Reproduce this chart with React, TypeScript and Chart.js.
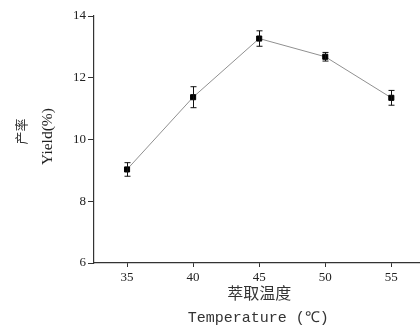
import React, { useEffect, useRef } from 'react';
import { Chart, registerables } from 'chart.js';

Chart.register(...registerables);

const temperatures = [35, 40, 45, 50, 55];
const yieldValues = [9.03, 11.37, 13.27, 12.68, 11.35];
const yieldErrors = [0.22, 0.34, 0.25, 0.14, 0.24];
const xTickValues = [35, 40, 45, 50, 55];
const yTickValues = [6, 8, 10, 12, 14];
const xTitleCn = '萃取温度';
const xTitleEn = 'Temperature (℃)';
const yTitleCn = '产率';
const yTitleEn = 'Yield(%)';

const errorBarsPlugin = {
  id: 'errorBars',
  afterDatasetsDraw(chart: any) {
    const ctx = chart.ctx;
    const xs = chart.scales.x;
    const ys = chart.scales.y;
    ctx.save();
    ctx.strokeStyle = '#111';
    ctx.lineWidth = 1;
    temperatures.forEach((t, i) => {
      const x = Math.round(xs.getPixelForValue(t)) + 0.5;
      const yTop = ys.getPixelForValue(yieldValues[i] + yieldErrors[i]);
      const yBot = ys.getPixelForValue(yieldValues[i] - yieldErrors[i]);
      ctx.beginPath();
      ctx.moveTo(x, yTop);
      ctx.lineTo(x, yBot);
      ctx.moveTo(x - 3, yTop);
      ctx.lineTo(x + 3, yTop);
      ctx.moveTo(x - 3, yBot);
      ctx.lineTo(x + 3, yBot);
      ctx.stroke();
    });
    ctx.restore();
  },
};

const titlesPlugin = {
  id: 'axisTitles',
  afterDraw(chart: any) {
    const ctx = chart.ctx;
    const a = chart.chartArea;
    const xs = chart.scales.x;
    const cx = xs.getPixelForValue(45);
    const cy = (a.top + a.bottom) / 2;
    ctx.save();
    ctx.fillStyle = '#333';
    ctx.textAlign = 'center';
    ctx.textBaseline = 'middle';
    ctx.font = '16px "Noto Sans CJK SC"';
    ctx.fillText(xTitleCn, cx, a.bottom + 30);
    ctx.font = '15px "Liberation Mono", "DejaVu Sans Mono", monospace';
    ctx.fillText(xTitleEn, cx - 1, a.bottom + 55);

    ctx.translate(21, cy - 8);
    ctx.rotate(-Math.PI / 2);
    ctx.font = '13px "Noto Sans CJK SC"';
    ctx.fillText(yTitleCn, 0, 0);
    ctx.restore();

    ctx.save();
    ctx.fillStyle = '#222';
    ctx.textAlign = 'center';
    ctx.textBaseline = 'middle';
    ctx.translate(48, cy - 3);
    ctx.rotate(-Math.PI / 2);
    ctx.font = '15.5px "Liberation Serif", serif';
    ctx.fillText(yTitleEn, 0, 0);
    ctx.restore();
  },
};

export default function App() {
  const ref = useRef<HTMLCanvasElement | null>(null);

  useEffect(() => {
    document.body.style.margin = '0';
    document.body.style.overflow = 'hidden';
    document.body.style.background = '#fff';
    const canvas = ref.current;
    if (!canvas) return;
    const chart = new Chart(canvas, {
      type: 'line',
      data: {
        datasets: [
          {
            data: temperatures.map((t, i) => ({ x: t, y: yieldValues[i] })),
            borderColor: '#909090',
            borderWidth: 1,
            tension: 0,
            pointStyle: 'rect',
            pointRadius: 3.6,
            pointBackgroundColor: '#000',
            pointBorderColor: '#000',
            pointBorderWidth: 1,
          },
        ],
      },
      options: {
        animation: false,
        responsive: false,
        maintainAspectRatio: false,
        layout: { padding: { top: 16, right: 0, left: 0, bottom: 0 } },
        plugins: {
          legend: { display: false },
          tooltip: { enabled: false },
        },
        scales: {
          x: {
            type: 'linear',
            min: 32.5,
            max: 57.7,
            afterBuildTicks: (s: any) => {
              s.ticks = xTickValues.map((v) => ({ value: v }));
            },
            afterFit: (s: any) => {
              s.height = 64;
            },
            grid: { drawOnChartArea: false, tickLength: 4, color: '#333' },
            border: { color: '#333', width: 1.2 },
            ticks: {
              font: { family: '"Liberation Serif", serif', size: 13 },
              color: '#222',
              padding: 3,
              maxRotation: 0,
            },
          },
          y: {
            type: 'linear',
            min: 6,
            max: 14,
            afterBuildTicks: (s: any) => {
              s.ticks = yTickValues.map((v) => ({ value: v }));
            },
            afterFit: (s: any) => {
              s.width = 94;
            },
            grid: { drawOnChartArea: false, tickLength: 6, color: '#333' },
            border: { color: '#333', width: 1.2 },
            ticks: {
              font: { family: '"Liberation Serif", serif', size: 13 },
              color: '#222',
              padding: 2,
            },
          },
        },
      },
      plugins: [errorBarsPlugin, titlesPlugin],
    } as any);
    return () => chart.destroy();
  }, []);

  return (
    <div style={{ position: 'fixed', left: 0, top: 0, width: 432, height: 327, background: '#fff' }}>
      <canvas ref={ref} width={432} height={327} style={{ display: 'block', width: 432, height: 327 }} />
    </div>
  );
}
